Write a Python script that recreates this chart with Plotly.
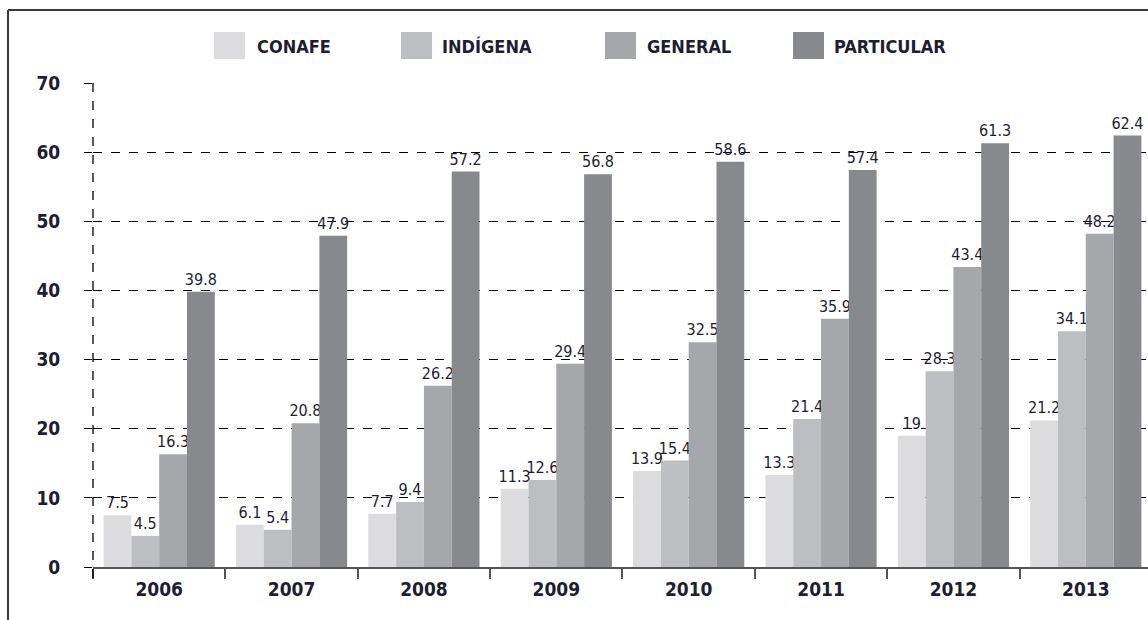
import plotly.graph_objects as go

years = ["2006", "2007", "2008", "2009", "2010", "2011", "2012", "2013"]
series_names = ["CONAFE", "INDÍGENA", "GENERAL", "PARTICULAR"]
conafe = [7.5, 6.1, 7.7, 11.3, 13.9, 13.3, 19, 21.2]
indigena = [4.5, 5.4, 9.4, 12.6, 15.4, 21.4, 28.3, 34.1]
general = [16.3, 20.8, 26.2, 29.4, 32.5, 35.9, 43.4, 48.2]
particular = [39.8, 47.9, 57.2, 56.8, 58.6, 57.4, 61.3, 62.4]
y_ticks = [0, 10, 20, 30, 40, 50, 60, 70]

series_values = [conafe, indigena, general, particular]
colors = ["#dcdcde", "#bdbec1", "#a6a7aa", "#88898c"]

W, H = 1148, 620
L, R, T, B = 93, 0, 83, 53
pw, ph = W - L - R, H - T - B

FONT = "DejaVu Sans Condensed, Liberation Sans Narrow, Arial Narrow, sans-serif"
TXT = "#1e1e30"


def px(x):
    return (x - L) / pw


def py(y):
    return (H - B - y) / ph


fig = go.Figure()
for name, vals, col in zip(series_names, series_values, colors):
    fig.add_trace(go.Bar(
        x=years, y=vals, name=name, marker=dict(color=col, line=dict(width=0)),
        text=[f"{v:g}" for v in vals], textposition="outside",
        constraintext="none",
        textfont=dict(family=FONT, size=16, color=TXT),
        cliponaxis=False, showlegend=False,
    ))

shapes = []
annotations = []
# custom legend
sq_x = [214, 401, 605, 793]
tx_x = [255, 440, 645, 832]
for name, col, sx, tx in zip(series_names, colors, sq_x, tx_x):
    shapes.append(dict(type="rect", xref="paper", yref="paper",
                       x0=px(sx), x1=px(sx + 31), y0=py(59), y1=py(32),
                       fillcolor=col, line=dict(width=0)))
    annotations.append(dict(xref="paper", yref="paper", x=px(tx), y=py(46),
                            xanchor="left", yanchor="middle", showarrow=False,
                            text=f"<b>{name}</b>",
                            font=dict(family=FONT, size=18, color=TXT)))

# outer frame
shapes.append(dict(type="line", xref="paper", yref="paper",
                   x0=px(8), x1=px(8), y0=py(625), y1=py(10),
                   line=dict(color="#3a3a3a", width=2)))
shapes.append(dict(type="line", xref="paper", yref="paper",
                   x0=px(8), x1=px(1150), y0=py(10), y1=py(10),
                   line=dict(color="#3a3a3a", width=2)))
# dashed y-axis line
shapes.append(dict(type="line", xref="paper", yref="paper",
                   x0=0, x1=0, y0=py(578), y1=1,
                   line=dict(color="#000", width=1.3, dash="dash")))

fig.update_layout(
    width=W, height=H,
    margin=dict(l=L, r=R, t=T, b=B, autoexpand=False),
    paper_bgcolor="white", plot_bgcolor="white",
    barmode="group", bargap=0.16, bargroupgap=0,
    shapes=shapes, annotations=annotations,
    showlegend=False,
)
fig.update_xaxes(
    type="category", range=[-0.5, 7.47],
    tickson="boundaries", ticks="outside", ticklen=10, tickwidth=1.5, tickcolor="#555",
    showline=True, linecolor="#555", linewidth=1.5,
    showgrid=False,
    ticklabelstandoff=4,
    tickfont=dict(family=FONT, size=19, color=TXT),
    tickvals=years, ticktext=[f"<b>{y}</b>" for y in years],
)
fig.update_yaxes(
    range=[0, 70], tickvals=y_ticks, ticktext=[f"<b>{v}</b>" for v in y_ticks],
    showgrid=True, gridcolor="#000", gridwidth=1, griddash="dash",
    zeroline=False, showline=False,
    ticks="outside", ticklen=8, tickcolor="#000", tickwidth=1,
    ticklabelstandoff=20,
    tickfont=dict(family=FONT, size=19, color=TXT),
)

fig.write_html(
    "out.html",
    config={"displayModeBar": False},
    post_script="document.body.style.margin='0';document.body.style.overflow='hidden';",
)
